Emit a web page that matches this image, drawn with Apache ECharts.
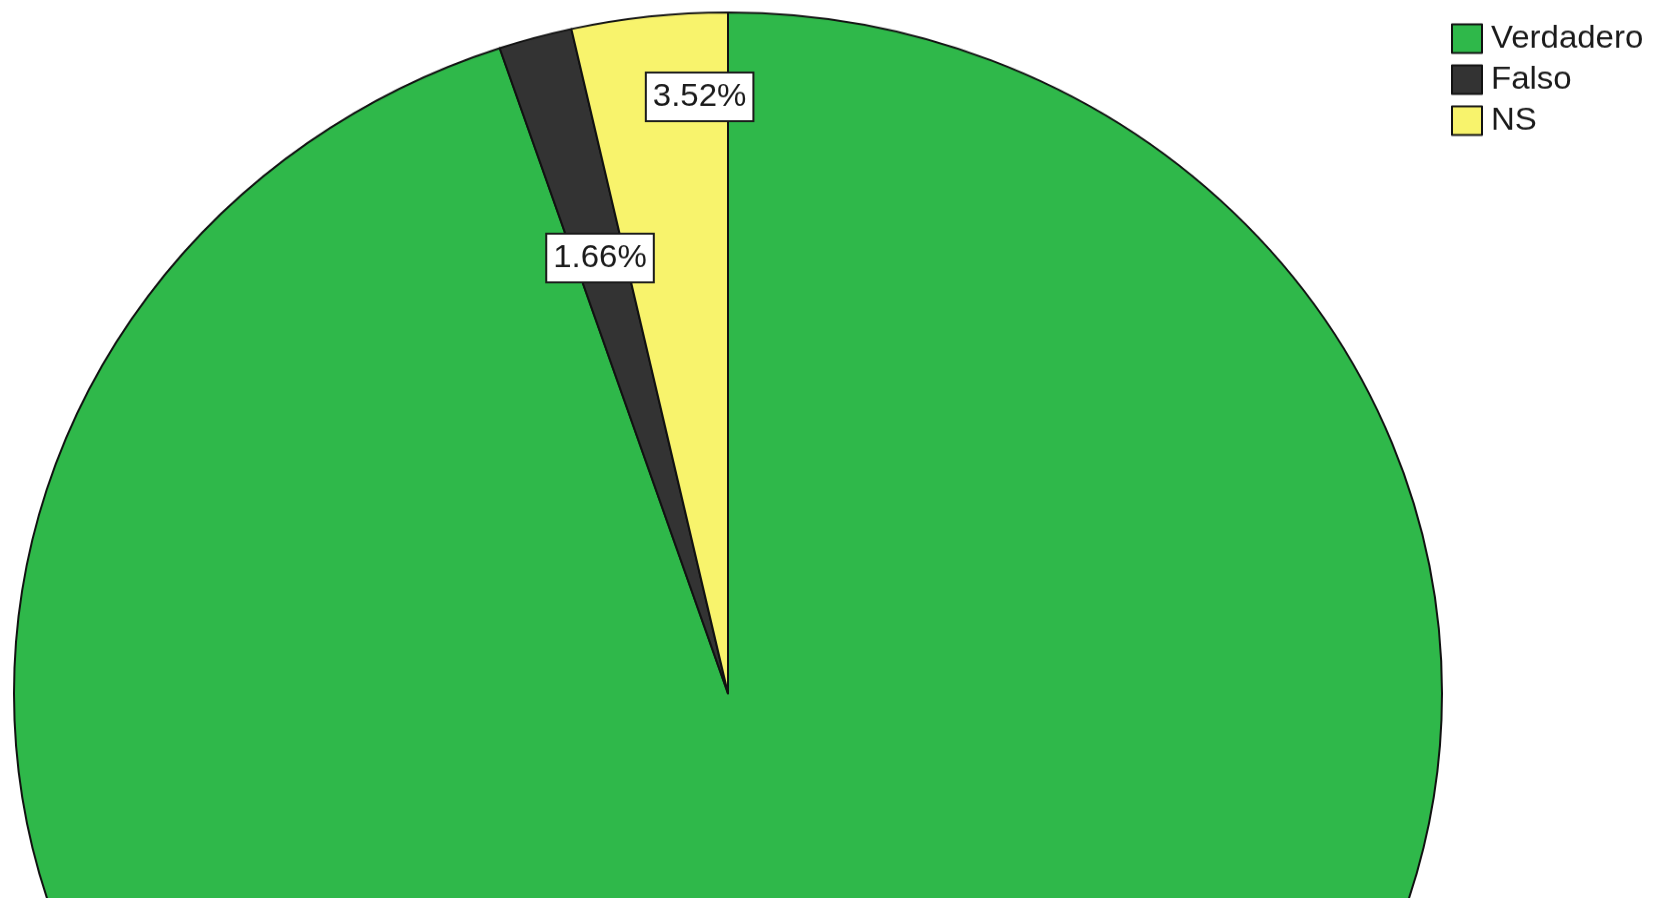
<!DOCTYPE html>
<html>
<head>
<meta charset="utf-8">
<script src="https://cdn.jsdelivr.net/npm/echarts@6/dist/echarts.min.js"></script>
<style>
  html, body { margin: 0; padding: 0; background: #ffffff; overflow: hidden; }
  #wrap { position: absolute; left: 0; top: 0; width: 1657px; height: 898px; overflow: hidden; background: #fff; }
  #chart { position: absolute; left: 0; top: 0; width: 1657px; height: 942px; transform-origin: 0 0; transform: scaleY(0.9538); }
</style>
</head>
<body>
<div id="wrap"><div id="chart"></div></div>
<script>
// Data
const categories = ['Verdadero', 'Falso', 'NS'];
const percentages = [94.82, 1.66, 3.52];
const sliceColors = ['#2fb84a', '#333333', '#f8f36c'];

// Geometry (unscaled chart coordinates)
const CX = 728, CY = 727, R = 714;
// label placement tweaks per slice: fraction along slice, fraction of radius
const labelAngleFrac = [0.5, 0.5, 0.795];
const labelRadiusFrac = [0.664, 0.664, 0.877];

const total = percentages.reduce((a, b) => a + b, 0);
const starts = [];
let acc = 0;
percentages.forEach(v => { starts.push(acc); acc += v; });

const chart = echarts.init(document.getElementById('chart'), null, { renderer: 'canvas' });

const option = {
  backgroundColor: '#ffffff',
  animation: false,
  legend: {
    orient: 'vertical',
    left: 1452,
    top: 19,
    itemWidth: 30,
    itemHeight: 30,
    itemGap: 10,
    icon: 'rect',
    textStyle: { fontFamily: "'Liberation Sans', Arial, sans-serif", fontSize: 33, color: '#1a1a1a', padding: [0, 0, 0, 0] },
    data: categories
  },
  series: [{
    type: 'pie',
    center: [CX, CY],
    radius: [0, R],
    startAngle: 90,
    clockwise: true,
    avoidLabelOverlap: false,
    labelLine: { show: false },
    itemStyle: { borderColor: '#111111', borderWidth: 2 },
    emphasis: { disabled: true },
    label: {
      show: true,
      position: 'inside',
      formatter: p => p.value.toFixed(2) + '%',
      fontFamily: "'Liberation Sans', Arial, sans-serif",
      fontSize: 33,
      color: '#1a1a1a',
      backgroundColor: '#ffffff',
      borderColor: '#1a1a1a',
      borderWidth: 2,
      padding: [5, 6, 4, 6],
      lineHeight: 40
    },
    labelLayout: function (params) {
      const i = params.dataIndex;
      const startDeg = starts[i] / total * 360;
      const spanDeg = percentages[i] / total * 360;
      const th = (startDeg + labelAngleFrac[i] * spanDeg) * Math.PI / 180;
      const r = labelRadiusFrac[i] * R;
      return {
        x: CX + r * Math.sin(th),
        y: CY - r * Math.cos(th),
        align: 'center',
        verticalAlign: 'middle'
      };
    },
    data: categories.map((c, i) => ({ name: c, value: percentages[i], itemStyle: { color: sliceColors[i] } }))
  }]
};
option.legend.left = 1446;
option.legend.textStyle.padding = [0, 0, 0, 4];
chart.setOption(option);
</script>
</body>
</html>
